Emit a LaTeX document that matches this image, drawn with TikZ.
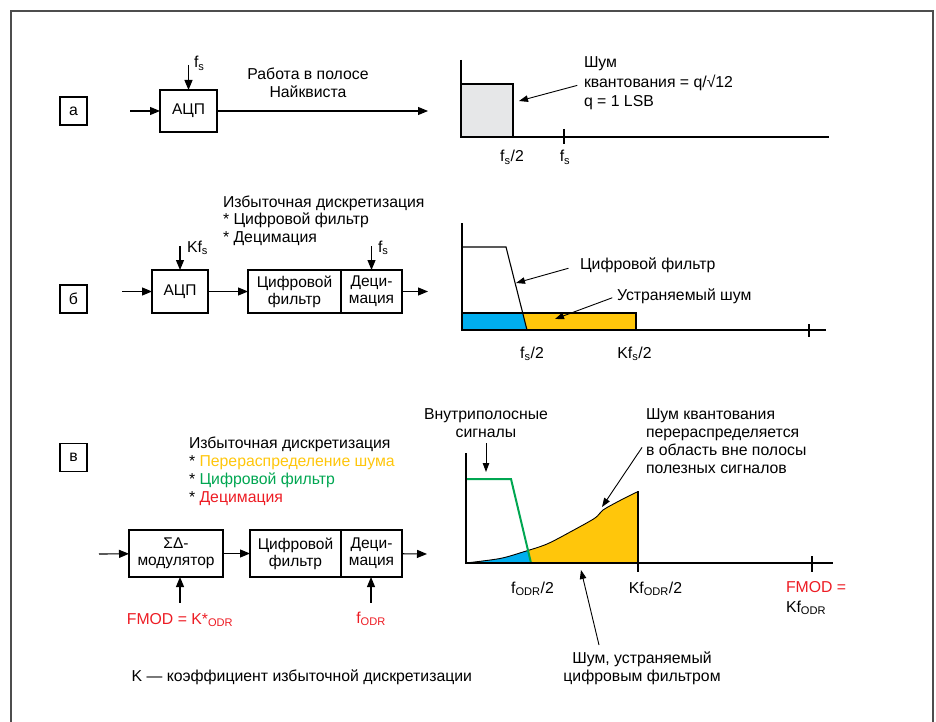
\documentclass[tikz,border=0pt]{standalone}
\usepackage{fontspec}
\setmainfont{Liberation Sans}
\usetikzlibrary{arrows.meta,calc}
\definecolor{nblue}{HTML}{00AEEF}
\definecolor{nyellow}{HTML}{FFC60B}
\definecolor{ngreen}{HTML}{00A651}
\definecolor{nred}{HTML}{ED1C24}
\definecolor{ngray}{HTML}{E6E7E8}
\definecolor{framecol}{HTML}{4D4D4D}
\newcommand{\sbs}[1]{\textsubscript{#1}}
\begin{document}
\begin{tikzpicture}[x=1pt,y=-1pt,
  every node/.style={inner sep=0pt,outer sep=0pt,font=\fontsize{15.8}{18}\selectfont},
  lw/.style={line width=1.1pt},
  arr/.style={lw,-{Triangle[length=10pt,width=8pt]}},
  sarr/.style={line width=0.9pt,-{Triangle[length=9pt,width=6.5pt]}},
  blk/.style={draw,lw,align=center,font=\fontsize{15.5}{17}\selectfont},
  tag/.style={draw,lw,minimum width=27,minimum height=28},
  axis/.style={line width=1.3pt},
  txt/.style={align=left},
]
\clip (0,0) rectangle (936,722);
\draw[line width=1.5pt,framecol] (11,730) -- (11,11) -- (933,11) -- (933,730);

% ---------------- panel a
\node[tag] (la) at (73.5,111) {а};
\node[blk,minimum width=57,minimum height=42] (adc1) at (188.5,111) {АЦП};
\coordinate (in1) at (130,111);
\coordinate (fs1) at (188.5,65);
\coordinate (out1) at (428,111);
\draw[arr] (in1) -- (adc1);
\draw[arr] (fs1) -- (adc1);
\draw[arr] (adc1) -- (out1);
\node[anchor=base west] (fs1l) at (194,68) {f\sbs{s}};
\node[anchor=north,align=center] (nyq) at (308,68) {Работа в полосе\\Найквиста};

% graph a
\fill[ngray] (461,84) rectangle (513,137);
\draw[lw] (461,84) -- (513,84) -- (513,137);
\draw[axis] (461,60) -- (461,137) -- (829,137);
\draw[lw] (564,129) -- (564,144);
\node[anchor=base] (ga1) at (512,162) {f\sbs{s}/2};
\node[anchor=base] (ga2) at (565,162) {f\sbs{s}};
\node[anchor=north west,txt,font=\fontsize{15.8}{19.5}\selectfont] (qn) at (584,57) {Шум\\квантования = q/√12\\q = 1 LSB};
\coordinate (qnp) at (519,101);
\draw[sarr,shorten <=7pt] (qn.west) -- (qnp);

% ---------------- panel b
\node[tag] (lb) at (73.5,299) {б};
\node[anchor=north west,txt,font=\fontsize{15.8}{17.3}\selectfont] (os2) at (223,196) {Избыточная дискретизация\\* Цифровой фильтр\\* Децимация};
\node[blk,minimum width=56,minimum height=43] (adc2) at (180,291.5) {АЦП};
\node[blk,minimum width=93,minimum height=43] (filt2) at (294.5,291.5) {Цифровой\\фильтр};
\node[blk,minimum width=61,minimum height=43] (dec2) at (371.5,291.5) {Деци-\\мация};
\coordinate (in2) at (122,291.5);
\coordinate (out2) at (428,291.5);
\coordinate (kfs2) at (180,246);
\coordinate (fs2) at (371.5,246);
\draw[arr] (in2) -- (adc2);
\draw[arr] (adc2) -- (filt2);
\draw[arr] (dec2) -- (out2);
\draw[arr] (kfs2) -- (adc2);
\draw[arr] (fs2) -- (dec2);
\node[anchor=base west] (kfs2l) at (187,252) {Kf\sbs{s}};
\node[anchor=base west] (fs2l) at (378,252) {f\sbs{s}};

% graph b
\fill[nblue] (462,313) -- (522.7,313) -- (527,330) -- (462,330) -- cycle;
\fill[nyellow] (522.7,313) -- (636,313) -- (636,330) -- (527,330) -- cycle;
\draw[lw] (462,313) rectangle (636,330);
\draw[lw] (462,247) -- (506,247) -- (527,330);
\draw[axis] (462,223) -- (462,330) -- (826,330);
\draw[lw] (809,324) -- (809,337);
\node[anchor=base] (gb1) at (532,358) {f\sbs{s}/2};
\node[anchor=base] (gb2) at (634.5,358) {Kf\sbs{s}/2};
\node[anchor=west] (cf) at (580,265) {Цифровой фильтр};
\node[anchor=west] (us) at (617,296) {Устраняемый шум};
\coordinate (cfp) at (516,283);
\coordinate (usp) at (555,319);
\draw[sarr,shorten <=12pt] (cf.west) -- (cfp);
\draw[sarr,shorten <=5pt] (us.west) -- (usp);

% ---------------- panel c
\node[tag] (lv) at (73.5,457.5) {в};
\node[anchor=north west,txt] (os3) at (189,437) {Избыточная дискретизация\\* {\color{nyellow}Перераспределение шума}\\* {\color{ngreen}Цифровой фильтр}\\* {\color{nred}Децимация}};
\node[blk,minimum width=94,minimum height=47] (sd) at (176,553.5) {ΣΔ-\\модулятор};
\node[blk,minimum width=91,minimum height=47] (filt3) at (295.5,553.5) {Цифровой\\фильтр};
\node[blk,minimum width=61,minimum height=47] (dec3) at (371.5,553.5) {Деци-\\мация};
\coordinate (in3) at (99,554);
\coordinate (out3) at (427,554);
\draw[arr] (in3) -- (sd);
\draw[arr] (sd) -- (filt3);
\draw[arr] (dec3) -- (out3);
\node[anchor=base,text=nred] (fmod) at (180,624) {FMOD = K*\sbs{ODR}};
\node[anchor=base,text=nred] (fodr) at (371,623) {f\sbs{ODR}};
\coordinate (fmodtop) at ($(fmod.north)+(0,-10)$);
\coordinate (fodrtop) at ($(fodr.north)+(0,-9)$);
\draw[arr] (fmodtop) -- (fmodtop |- sd.south);
\draw[arr] (fodrtop) -- (fodrtop |- dec3.south);

% graph c
\fill[nyellow] plot[smooth] coordinates {(466,563) (500,558.5) (523,552) (547,544) (572,531) (595,518) (603,510) (620,500.5) (637,492)} -- (638,563) -- cycle;
\begin{scope}
  \clip (440,400) -- (492,400) -- (531,563) -- (440,563) -- cycle;
  \fill[nblue] plot[smooth] coordinates {(466,563) (500,558.5) (523,552) (547,544) (572,531) (595,518) (603,510) (620,500.5) (637,492)} -- (638,563) -- cycle;
\end{scope}
\draw[line width=0.9pt] plot[smooth] coordinates {(466,563) (500,558.5) (523,552) (547,544) (572,531) (595,518) (603,510) (620,500.5) (637,492)};
\draw[ngreen,line width=2pt] (466,479) -- (511,479) -- (531,563);
\draw[axis] (466,453) -- (466,563) -- (833,563);
\draw[lw] (638,491) -- (638,572);
\draw[lw] (812,556) -- (812,572);
\node[anchor=base] (gc1) at (532.5,593) {f\sbs{ODR}/2};
\node[anchor=base] (gc2) at (655.5,593) {Kf\sbs{ODR}/2};
\node[anchor=north west,txt,font=\fontsize{15.8}{20}\selectfont] (gc3) at (786,581) {{\color{nred}FMOD =}\\Kf\sbs{ODR}};
\node[anchor=north,align=center] (vn) at (486,409) {Внутриполосные\\сигналы};
\coordinate (vnp) at (486,472);
\draw[sarr,shorten <=5pt] (vn.south) -- (vnp);
\node[anchor=north west,txt] (sq) at (646,409) {Шум квантования\\перераспределяется\\в область вне полосы\\полезных сигналов};
\coordinate (sqp) at (602,507);
\draw[sarr,shorten <=7pt] (sq.west) -- (sqp);
\node[anchor=north,align=center] (sn) at (642,652) {Шум, устраняемый\\цифровым фильтром};
\coordinate (snp) at (581,570);
\draw[sarr] ($(sn.north)+(-43,-7)$) -- (snp);
\node[anchor=base east] (kk) at (472,681) {K — коэффициент избыточной дискретизации};
\end{tikzpicture}
\end{document}
